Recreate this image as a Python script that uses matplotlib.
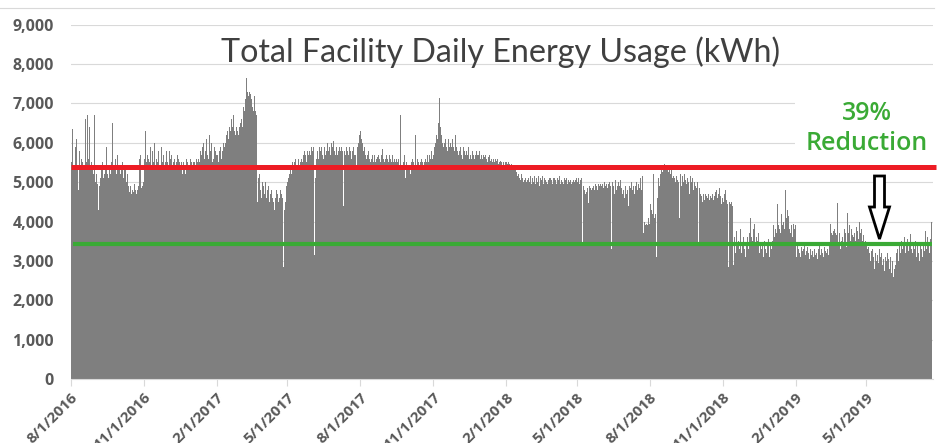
import matplotlib
matplotlib.use("Agg")
import matplotlib.pyplot as plt
import numpy as np
import pandas as pd
from matplotlib.patches import Polygon, Rectangle
from matplotlib.lines import Line2D

# ---------------- data (daily kWh) ----------------
start_date = "2016-08-01"

kwh_2016 = (
    # Aug
    [6200, 5500, 6350, 5400, 5300, 5100, 5900, 6100, 5400, 4800, 5400, 5800, 5300, 5600, 5500, 6000,
     5400, 5300, 6600, 5500, 5400, 6700, 5600, 6400, 5300, 5900, 5500, 5400, 5200, 5600, 6700]
    # Sep
    + [5000, 5200, 4950, 3550, 4300, 4900, 5100, 5300, 5000, 5500, 5100, 5200, 5400, 5300, 5900,
       5200, 5100, 5400, 5300, 5200, 5500, 6500, 5400, 5100, 5300, 5600, 5200, 5400, 5700, 5300]
    # Oct
    + [5400, 5200, 5900, 5300, 5500, 5100, 5400, 4500, 5300, 5000, 5200, 4900, 4800, 4750, 4900, 4700,
       4800, 4850, 4750, 4950, 4800, 4700, 4850, 4800, 4900, 5600, 4900, 5700, 4850, 4900, 5000]
    # Nov
    + [5400, 5600, 6300, 5500, 5700, 6100, 5600, 5500, 5900, 5400, 5600, 5800, 5500, 6000, 5400,
       5700, 5600, 5500, 5800, 5300, 5600, 5400, 5900, 5500, 5600, 5700, 5400, 5500, 5800, 5600]
    # Dec
    + [5500, 5400, 5800, 5600, 5500, 5700, 5400, 5500, 5600, 5900, 5400, 5500, 5700, 5600, 5400, 5500,
       5300, 5500, 5200, 5400, 5500, 5300, 5200, 5400, 5600, 5500, 5400, 5300, 5500, 5600, 5500]
)

kwh_2017 = (
    # Jan
    [5400, 5500, 5600, 5500, 5400, 5600, 5500, 5700, 5600, 5500, 5800, 5700, 6200, 5900, 6000, 5600,
     5800, 6300, 6100, 5700, 5600, 5900, 6200, 5800, 6000, 5500, 5700, 5600, 5900, 5800, 5700]
    # Feb
    + [5600, 5700, 5500, 5800, 5900, 5700, 5600, 5800, 6000, 5900, 6100, 6000, 6200, 6300,
       6100, 6800, 6400, 6300, 6600, 6200, 6400, 6700, 6300, 6200, 6500, 6400, 6300, 6200]
    # Mar
    + [6400, 6300, 6500, 6600, 6400, 6900, 7000, 6800, 7100, 7650, 7300, 7000, 7200, 7300, 7250, 7100,
       7300, 6900, 6800, 7200, 6700, 6800, 6700, 4500, 5100, 4900, 5200, 4800, 4600, 5000, 4400]
    # Apr
    + [4900, 4700, 5000, 4600, 4400, 4800, 4900, 4500, 4700, 5000, 4800, 4600, 4500, 4300, 4100,
       4600, 4800, 4700, 4900, 4500, 4600, 4800, 4700, 4500, 4600, 2850, 4300, 4500, 4700, 4900]
    # May
    + [5000, 5100, 5200, 5300, 5400, 5200, 5500, 5400, 5300, 5500, 5600, 5300, 5400, 5500, 5600, 5300,
       5500, 5400, 5600, 5500, 5700, 5800, 5600, 5700, 5500, 5800, 5700, 5900, 5800, 5700, 5900]
    # Jun
    + [5800, 5700, 5900, 3150, 5100, 5600, 5700, 5800, 5600, 5900, 5700, 5800, 5900, 5700, 5600,
       5800, 5900, 5700, 5800, 6000, 5700, 5800, 5900, 5700, 6000, 5800, 5900, 6050, 5800, 5700]
    # Jul
    + [5800, 5900, 5700, 5800, 5900, 5700, 5800, 5900, 5800, 6100, 4400, 5800, 5700, 5900, 5600, 5800,
       5700, 5900, 5800, 5700, 5600, 5800, 5900, 5700, 5600, 5700, 5400, 5900, 6000, 6400, 6200]
    # Aug
    + [6300, 6100, 6000, 5900, 5800, 5900, 5700, 5800, 5600, 5700, 5800, 5600, 5700, 5500, 5600, 5700,
       5500, 5600, 5700, 5500, 5600, 5650, 5500, 5700, 5600, 5500, 5700, 5600, 5850, 5600, 5500]
    # Sep
    + [5600, 5500, 5700, 5600, 5500, 5600, 5700, 5600, 5500, 5700, 5600, 5500, 5600, 5500, 5600,
       5400, 5500, 5600, 5400, 6700, 5500, 5400, 5300, 5500, 5700, 5400, 5100, 5500, 5400, 5300]
    # Oct
    + [5600, 5400, 5200, 5500, 5400, 5600, 5500, 5400, 6200, 5500, 5400, 5600, 5500, 5400, 5300, 5500,
       5600, 5500, 5400, 5100, 5500, 5600, 5500, 5700, 5600, 5500, 5700, 5600, 5800, 5700, 5600]
    # Nov
    + [5700, 5900, 5800, 6000, 6200, 6100, 6500, 6300, 7150, 6400, 6200, 6000, 6100, 5900, 6000,
       6100, 5900, 6000, 5800, 6100, 5900, 6000, 5800, 5900, 6100, 5900, 5800, 6000, 6200, 5900]
    # Dec
    + [5800, 5900, 5700, 5800, 5900, 5700, 5800, 5600, 5900, 5800, 5700, 6000, 5800, 5700, 5900, 5600,
       5800, 5700, 5600, 5800, 5700, 5800, 5600, 5700, 5800, 5700, 5600, 5700, 5800, 5600, 5700]
)

kwh_2018 = (
    # Jan
    [5700, 5600, 5700, 5650, 5600, 5700, 5600, 5500, 5650, 5600, 5700, 5550, 5600, 5500, 5650, 5600,
     5500, 5600, 5550, 5500, 5600, 5450, 5500, 5550, 5450, 5500, 5400, 5500, 5450, 5400, 5500]
    # Feb
    + [5500, 5450, 5400, 5500, 5450, 5400, 5450, 5350, 5400, 5300, 5350, 5300, 5200, 5250,
       5150, 5200, 5100, 5150, 5050, 5200, 5100, 5000, 5150, 5050, 5100, 5000, 5150, 5050]
    # Mar
    + [5100, 5000, 5150, 5050, 4950, 5100, 5000, 5150, 5050, 4950, 5100, 5000, 5150, 5050, 4900, 5100,
       5050, 5150, 5000, 4950, 5100, 5050, 5000, 5150, 4950, 5050, 5100, 5000, 5100, 5050, 4950]
    # Apr
    + [5100, 5000, 5100, 5050, 4950, 5100, 5000, 5050, 5150, 4950, 5050, 5100, 5000, 4950, 5100,
       5050, 5000, 5100, 4950, 5050, 5000, 5100, 5050, 4950, 5000, 5100, 5050, 5000, 5050, 5100]
    # May
    + [5050, 5000, 5100, 4950, 5050, 5000, 5100, 3450, 4900, 4800, 4850, 4700, 4750, 4850, 4460, 4800,
       4900, 4850, 4800, 4950, 4850, 4900, 4800, 4950, 4850, 4900, 4800, 4950, 4900, 4850, 4950]
    # Jun
    + [4900, 4950, 4850, 4900, 5000, 4900, 4950, 4850, 5050, 4950, 5000, 4900, 3300, 4800, 5000,
       4900, 4700, 4950, 5050, 4800, 4900, 5000, 4750, 4900, 5050, 4850, 4700, 4950, 4800, 4600]
    # Jul
    + [4900, 4700, 4950, 4800, 4400, 4900, 4850, 4700, 5000, 4800, 4900, 4700, 5100, 4900, 5000, 4800,
       5100, 4950, 4850, 5100, 4800, 5050, 5150, 3700, 4000, 3900, 4050, 3950, 3900, 4100, 3950]
    # Aug
    + [4000, 4450, 4300, 4200, 5200, 4300, 4100, 4200, 3100, 4600, 5000, 5100, 4900, 5200, 5300, 5400,
       5250, 5350, 5450, 5480, 5350, 5300, 5400, 5250, 5300, 5350, 5200, 5300, 5100, 5250, 5150]
    # Sep
    + [5100, 5000, 5150, 4950, 5050, 5000, 4080, 5200, 5100, 4900, 5150, 5000, 4700, 5200, 5050,
       4950, 5100, 4900, 5000, 4700, 5150, 5000, 4900, 5100, 4800, 5000, 4900, 4950, 4850, 5000]
    # Oct
    + [3450, 4850, 5150, 4700, 4650, 4500, 4700, 4600, 4550, 4700, 4650, 4500, 4600, 4700, 4550, 4650,
       3850, 4600, 4700, 4550, 4650, 4500, 4750, 4800, 4600, 4700, 4500, 4850, 4650, 4450, 4600]
    # Nov
    + [4600, 4500, 4700, 4800, 4550, 4650, 4450, 2850, 4500, 4550, 4450, 4500, 4400, 2900, 3300,
       3600, 3200, 3750, 3400, 3100, 3500, 3300, 3800, 3200, 3000, 3400, 3600, 3300, 3100, 3500]
    # Dec
    + [3400, 3600, 3300, 3700, 4720, 4100, 3600, 3500, 4300, 3800, 3950, 3400, 3600, 3300, 3500, 3700,
       3200, 3400, 3600, 3300, 3450, 3100, 3500, 3700, 3300, 3200, 3400, 3550, 3300, 3100, 3450]
)

kwh_2019 = (
    # Jan
    [3300, 3500, 3700, 3900, 3600, 3800, 4000, 3700, 4450, 3900, 3800, 4100, 3700, 4200, 3900, 4000,
     4380, 3800, 4800, 4100, 4300, 3900, 4130, 3800, 3700, 3900, 3850, 3600, 3950, 3800, 3900]
    # Feb
    + [3200, 3100, 3400, 3300, 3590, 3200, 3100, 3350, 3250, 3000, 3300, 3400, 3150, 3250,
       3100, 3350, 3200, 3050, 3300, 3450, 3150, 3250, 3100, 3300, 3400, 3150, 3200, 3050]
    # Mar
    + [3300, 3200, 3400, 3150, 3300, 3450, 3200, 3100, 3350, 3250, 3400, 3200, 3300, 3150, 3400, 3600,
       3950, 3700, 3650, 3750, 3600, 3800, 3700, 3650, 4470, 3600, 3400, 3700, 3300, 3500, 3850]
    # Apr
    + [3600, 3400, 3800, 3500, 3700, 3350, 4210, 3700, 3600, 3900, 3500, 3800, 3650, 3950, 3600,
       3700, 3500, 3850, 3600, 3750, 3550, 3980, 3700, 3600, 3800, 3500, 3650, 3450, 3400, 3500]
    # May
    + [3400, 3300, 3100, 3350, 3200, 3000, 3250, 2900, 3300, 3100, 2800, 3200, 3350, 3000, 3150, 2950,
       3300, 2850, 3100, 3200, 2900, 3050, 3250, 2750, 3100, 3000, 2900, 3200, 3050, 2800, 3100]
    # Jun
    + [2900, 2700, 3000, 2600, 2800, 2450, 2900, 3200, 3300, 3000, 3770, 3400, 3200, 3500, 3300,
       3100, 3450, 3600, 3200, 3400, 3300, 3550, 3250, 3400, 3500, 3690, 3300, 3200, 3450, 3100]
    # Jul (through 7/22)
    + [3300, 3500, 3100, 3400, 3600, 3200, 3000, 3450, 3300, 3550, 3100, 3400, 3250, 3770, 3500,
       3300, 3600, 3400, 3200, 2670, 3550, 3980]
)

baseline_kwh = 5380   # red line
current_kwh = 3430    # green line
reduction_label = ["39%", "Reduction"]
title = "Total Facility Daily Energy Usage (kWh)"
tick_labels = ["8/1/2016", "11/1/2016", "2/1/2017", "5/1/2017", "8/1/2017", "11/1/2017",
               "2/1/2018", "5/1/2018", "8/1/2018", "11/1/2018", "2/1/2019", "5/1/2019"]
y_ticks = [0, 1000, 2000, 3000, 4000, 5000, 6000, 7000, 8000, 9000]

# ---------------- plot ----------------
kwh = np.array(kwh_2016 + kwh_2017 + kwh_2018 + kwh_2019)
day = np.arange(len(kwh))
t0 = pd.Timestamp(start_date)
tick_pos = [(pd.to_datetime(s, format="%m/%d/%Y") - t0).days for s in tick_labels]

W, H = 943, 443
fig = plt.figure(figsize=(W / 100, H / 100), dpi=100)
L, R, T, B = 70.7, 932.7, 24.7, 379.0
ax = fig.add_axes([L / W, 1 - B / H, (R - L) / W, (B - T) / H])

grey = "#595959"
ax.bar(day, kwh, width=1.0, align="edge", color="#7f7f7f", linewidth=0, zorder=2)
ax.set_xlim(0, 1087)
ax.set_ylim(0, 9000)

ax.set_yticks(y_ticks)
ax.set_yticklabels([f"{v:,}" for v in y_ticks])
ax.yaxis.grid(True, color="#d9d9d9", lw=0.8, zorder=0)
ax.set_axisbelow(True)
ax.set_xticks(tick_pos)
ax.set_xticklabels(tick_labels)

for s in ["top", "right", "left"]:
    ax.spines[s].set_visible(False)
ax.spines["bottom"].set_color("#d9d9d9")
ax.spines["bottom"].set_linewidth(0.8)
ax.spines["bottom"].set_zorder(3)

ax.tick_params(axis="y", length=0, pad=12, labelsize=11.5, labelcolor=grey)
ax.tick_params(axis="x", length=5, width=0.8, color="#d9d9d9", labelsize=11, labelcolor=grey, pad=3)
for lab in ax.get_yticklabels():
    lab.set_fontweight("bold")
    lab.set_family("Open Sans")
for lab in ax.get_xticklabels():
    lab.set_fontweight("bold")
    lab.set_family("Open Sans")
    lab.set_rotation(45)
    lab.set_ha("right")
    lab.set_va("top")
    lab.set_rotation_mode("anchor")

# white box behind the reduction label (hides gridlines)
ax.add_patch(Rectangle((0.84, 0.618), 0.16, 0.192, transform=ax.transAxes,
                       facecolor="white", edgecolor="none", zorder=1))

# reference lines
ax.plot([0, 1091], [baseline_kwh, baseline_kwh], color="#ed1c24", lw=3.6,
        solid_capstyle="butt", clip_on=False, zorder=4)
ax.plot([3, 1086], [current_kwh, current_kwh], color="#3aaa35", lw=3.0,
        solid_capstyle="butt", clip_on=False, zorder=4)

# title
fig.text(501 / W, 1 - 62 / H, title, ha="center", va="baseline", fontsize=23.2,
         family="Lato", color="#404040")

# reduction label
green = "#3aaa35"
fig.text(867 / W, 1 - 120 / H, reduction_label[0], ha="center", va="baseline",
         fontsize=18, family="Open Sans", fontweight="semibold", color=green)
fig.text(867 / W, 1 - 150 / H, reduction_label[1], ha="center", va="baseline",
         fontsize=18, family="Open Sans", fontweight="semibold", color=green)

# hollow arrow
pts_px = [(874.5, 176), (884.5, 176), (884.5, 207), (889.5, 207), (879.5, 239),
          (869.5, 207), (874.5, 207)]
pts = [(x / W, 1 - y / H) for x, y in pts_px]
fig.add_artist(Polygon(pts, closed=True, facecolor="white", edgecolor="black",
                       lw=2, transform=fig.transFigure, zorder=10))

# thin top border line
fig.add_artist(Line2D([0, 0.99], [1 - 8.3 / H] * 2, color="#d9d9d9", lw=0.8,
                      transform=fig.transFigure))

fig.savefig("out.png", dpi=100)
